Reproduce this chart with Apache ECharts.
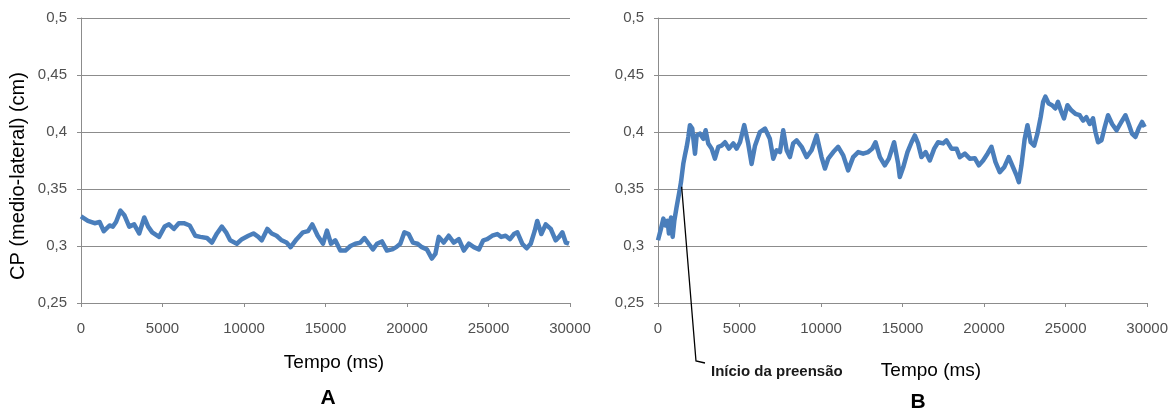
<!DOCTYPE html>
<html>
<head>
<meta charset="utf-8">
<script src="https://cdn.jsdelivr.net/npm/echarts@6/dist/echarts.min.js"></script>
<style>
  html, body { margin: 0; padding: 0; background: #ffffff; }
  #chart { width: 1171px; height: 414px; }
</style>
</head>
<body>
<div id="chart"></div>
<script>
// Medio-lateral centre of pressure over time: panel A and panel B ([ms, cm])
const seriesA = [
  [0,0.326],[425,0.322],[835,0.320],[1140,0.321],[1400,0.313],[1750,0.318],[1950,0.317],[2150,0.321],
  [2420,0.331],[2660,0.327],[2960,0.317],[3260,0.319],[3570,0.311],[3880,0.325],[4120,0.317],[4370,0.312],
  [4790,0.308],[5130,0.317],[5400,0.319],[5700,0.315],[6000,0.320],[6310,0.320],[6670,0.318],[7010,0.309],
  [7320,0.308],[7730,0.307],[8030,0.303],[8340,0.311],[8640,0.317],[8900,0.312],[9150,0.305],[9560,0.302],
  [9870,0.306],[10270,0.309],[10580,0.311],[10880,0.308],[11090,0.305],[11430,0.315],[11700,0.311],[12000,0.309],
  [12310,0.305],[12610,0.303],[12860,0.299],[13230,0.306],[13620,0.312],[13930,0.313],[14190,0.319],[14520,0.309],
  [14850,0.302],[15090,0.3135],[15340,0.302],[15600,0.305],[15910,0.296],[16220,0.296],[16530,0.300],[16830,0.302],
  [17140,0.303],[17390,0.307],[17650,0.302],[17910,0.297],[18160,0.302],[18460,0.304],[18770,0.296],[19080,0.297],
  [19340,0.299],[19590,0.302],[19840,0.312],[20100,0.3105],[20360,0.303],[20650,0.302],[20910,0.299],[21220,0.297],
  [21520,0.289],[21740,0.293],[21950,0.308],[22250,0.303],[22560,0.309],[22870,0.303],[23180,0.306],[23490,0.296],
  [23790,0.302],[24100,0.299],[24410,0.297],[24680,0.305],[24920,0.306],[25230,0.309],[25540,0.3105],[25780,0.308],
  [26050,0.309],[26320,0.306],[26560,0.3105],[26770,0.312],[27070,0.302],[27340,0.298],[27590,0.302],[27830,0.313],
  [27990,0.322],[28240,0.3105],[28510,0.319],[28820,0.315],[29120,0.305],[29330,0.308],[29530,0.312],[29740,0.303],
  [29940,0.302]
];

const seriesB = [
  [0,0.305],[180,0.315],[330,0.324],[470,0.318],[590,0.322],[670,0.311],[800,0.325],[900,0.308],
  [1000,0.322],[1140,0.334],[1290,0.346],[1410,0.356],[1550,0.372],[1650,0.3795],[1760,0.387],[1860,0.3956],
  [1960,0.406],[2100,0.403],[2270,0.381],[2370,0.397],[2570,0.3986],[2780,0.394],[2920,0.4015],[3080,0.390],
  [3290,0.3854],[3490,0.3766],[3700,0.387],[3900,0.388],[4110,0.391],[4350,0.3854],[4620,0.390],[4820,0.3854],
  [5030,0.391],[5290,0.406],[5530,0.390],[5740,0.372],[5950,0.388],[6250,0.400],[6560,0.403],[6860,0.394],
  [7070,0.3766],[7270,0.384],[7480,0.3824],[7680,0.4015],[7890,0.384],[8090,0.378],[8290,0.390],[8500,0.3927],
  [8810,0.387],[9110,0.378],[9420,0.384],[9730,0.397],[10030,0.378],[10240,0.368],[10440,0.3766],[10750,0.3824],
  [11050,0.387],[11360,0.3795],[11660,0.3663],[11970,0.378],[12280,0.3824],[12580,0.381],[12890,0.3824],[13140,0.3854],
  [13340,0.391],[13610,0.378],[13910,0.3707],[14160,0.3766],[14480,0.391],[14730,0.372],[14830,0.3605],[15040,0.369],
  [15300,0.3824],[15550,0.391],[15750,0.397],[15950,0.390],[16160,0.378],[16410,0.3824],[16670,0.375],[16940,0.3854],
  [17180,0.391],[17490,0.390],[17690,0.3927],[18000,0.3854],[18310,0.3854],[18510,0.378],[18820,0.381],[19120,0.3766],
  [19430,0.377],[19680,0.3707],[19940,0.375],[20210,0.381],[20450,0.387],[20700,0.3736],[20960,0.3648],[21230,0.369],
  [21510,0.378],[21780,0.369],[21990,0.362],[22130,0.356],[22290,0.3707],[22490,0.394],[22660,0.406],[22860,0.391],
  [23070,0.388],[23270,0.3986],[23470,0.413],[23620,0.4264],[23760,0.431],[23960,0.425],[24170,0.4235],[24370,0.4206],
  [24530,0.4264],[24740,0.4176],[24900,0.412],[25110,0.4235],[25350,0.419],[25600,0.416],[25860,0.4147],[26070,0.410],
  [26270,0.413],[26480,0.407],[26680,0.412],[26830,0.400],[26990,0.391],[27200,0.3927],[27400,0.4044],[27600,0.4147],
  [27850,0.407],[28120,0.4015],[28420,0.4088],[28670,0.4147],[28870,0.407],[29070,0.3986],[29280,0.3956],[29480,0.403],
  [29690,0.4088],[29850,0.4044]
];

// Axis ranges
const timeRange = [0, 30000, 5000];
const cpRange = [0.25, 0.5, 0.05];

// Texts
const yTitle = 'CP (medio-lateral) (cm)';
const xTitle = 'Tempo (ms)';
const panelLetters = ['A', 'B'];
const graspLabel = 'Início da preensão';
const graspPoint = [1450, 0.352];

const FONT = '"Liberation Sans", Arial, sans-serif';
const GRID_COLOR = '#8c8c8c';
const LABEL_COLOR = '#505050';
const LINE_COLOR = '#4a7ebb';

const chart = echarts.init(document.getElementById('chart'), null, { renderer: 'canvas' });

function xAxisCfg(gridIndex) {
  return {
    type: 'value', gridIndex,
    min: timeRange[0], max: timeRange[1], interval: timeRange[2],
    axisLine: { show: true, lineStyle: { color: GRID_COLOR, width: 1 } },
    axisTick: { show: true, inside: false, length: 4, lineStyle: { color: GRID_COLOR } },
    splitLine: { show: false },
    axisLabel: {
      color: LABEL_COLOR, fontFamily: FONT, fontSize: 15, margin: 18,
      formatter: v => String(v)
    }
  };
}

function yAxisCfg(gridIndex) {
  return {
    type: 'value', gridIndex,
    min: cpRange[0], max: cpRange[1], interval: cpRange[2],
    axisLine: { show: true, lineStyle: { color: GRID_COLOR, width: 1 } },
    axisTick: { show: true, inside: false, length: 4, lineStyle: { color: GRID_COLOR } },
    splitLine: { show: true, lineStyle: { color: GRID_COLOR, width: 1 } },
    axisLabel: {
      color: LABEL_COLOR, fontFamily: FONT, fontSize: 15, margin: 14,
      formatter: v => String(+v.toFixed(2)).replace('.', ',')
    }
  };
}

function lineSeries(data, idx) {
  return {
    type: 'line', xAxisIndex: idx, yAxisIndex: idx,
    data, showSymbol: false, symbol: 'none',
    lineStyle: { color: LINE_COLOR, width: 4.5, join: 'round' },
    itemStyle: { color: LINE_COLOR },
    z: 3
  };
}

chart.setOption({
  animation: false,
  backgroundColor: '#ffffff',
  grid: [
    { left: 81, right: 601, top: 18, bottom: 111 },
    { left: 658, right: 23, top: 18, bottom: 111 }
  ],
  xAxis: [xAxisCfg(0), xAxisCfg(1)],
  yAxis: [yAxisCfg(0), yAxisCfg(1)],
  series: [lineSeries(seriesA, 0), lineSeries(seriesB, 1)]
});

// Leader line from the grasp onset on panel B down to its label
const onset = chart.convertToPixel({ seriesIndex: 1 }, graspPoint);

chart.setOption({
  graphic: [
    {
      type: 'text', x: 18, y: 176, rotation: Math.PI / 2,
      style: { text: yTitle, fill: '#000', font: '20px ' + FONT, align: 'center', verticalAlign: 'middle' }
    },
    {
      type: 'text', x: 334, y: 363,
      style: { text: xTitle, fill: '#000', font: '19px ' + FONT, align: 'center', verticalAlign: 'middle' }
    },
    {
      type: 'text', x: 931, y: 371,
      style: { text: xTitle, fill: '#000', font: '19px ' + FONT, align: 'center', verticalAlign: 'middle' }
    },
    {
      type: 'text', x: 328, y: 398,
      style: { text: panelLetters[0], fill: '#000', font: 'bold 21px ' + FONT, align: 'center', verticalAlign: 'middle' }
    },
    {
      type: 'text', x: 918, y: 402,
      style: { text: panelLetters[1], fill: '#000', font: 'bold 21px ' + FONT, align: 'center', verticalAlign: 'middle' }
    },
    {
      type: 'polyline', z: 10,
      shape: { points: [onset, [696, 361], [705, 363]] },
      style: { stroke: '#000', lineWidth: 1.3, fill: null }
    },
    {
      type: 'text', x: 711, y: 372,
      style: { text: graspLabel, fill: '#1a1a1a', font: 'bold 15px ' + FONT, align: 'left', verticalAlign: 'middle' }
    }
  ]
});
</script>
</body>
</html>
